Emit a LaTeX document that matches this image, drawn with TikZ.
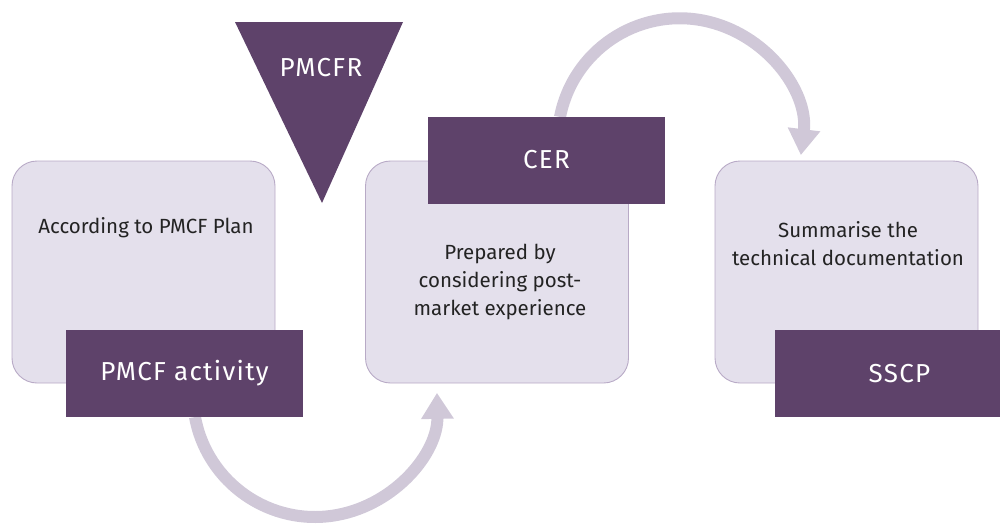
\documentclass[tikz,border=0pt]{standalone}
\usepackage{fontspec}
\setmainfont{Fira Sans}
\newfontfamily\tagfont[LetterSpace=5]{Fira Sans}
\usetikzlibrary{arrows.meta}
\definecolor{dpurple}{RGB}{94,66,106}
\definecolor{boxfill}{RGB}{228,224,236}
\definecolor{boxline}{RGB}{184,170,198}
\definecolor{arrowc}{RGB}{208,200,216}
\definecolor{txt}{RGB}{35,35,35}
\tikzset{
  card/.style={draw=boxline, line width=0.9pt, fill=boxfill, rounded corners=25pt, minimum width=263pt, minimum height=222pt, inner sep=0pt},
  tag/.style={fill=dpurple, text=white, minimum width=237pt, minimum height=87pt, inner sep=0pt, font=\tagfont\fontsize{26}{30}\selectfont},
  body/.style={text=txt, align=center, font=\fontsize{20.5}{28}\selectfont},
  flow/.style={draw=arrowc, line width=12pt, -{Triangle[width=31pt,length=26pt,fill=arrowc]}}
}
\begin{document}
\begin{tikzpicture}[x=1pt,y=-1pt]
\useasboundingbox (0,0) rectangle (1000,525);
\clip (0,0) rectangle (1000,525);
% cards
\node[card] (c1) at (143.5,272) {};
\node[card] (c2) at (497,272) {};
\node[card] (c3) at (846.5,272) {};
% arrows
\coordinate (a1) at (195,417);
\coordinate (a2) at (560,117);
\draw[flow] (a1) arc[start angle=169.6, end angle=-1, radius=122];
\draw[flow] (a2) arc[start angle=191, end angle=367, radius=122];
% tags
\node[tag] (act) at (184.5,373.5) {PMCF activity};
\node[tag] (cer) at (546.5,160) {CER};
\node[tag] (sscp) at (893.5,373.5) {\hspace*{12pt}SSCP};
% triangle
\fill[dpurple] (235,22) -- (403,22) -- (322,203) -- cycle;
\node[text=white, font=\tagfont\fontsize{26}{30}\selectfont] (pmcfr) at (321,68) {PMCFR};
% texts
\node[body] (t1) at (146,228) {According to PMCF Plan};
\node[body] (t2) at (500,282) {Prepared by\\considering post-\\market experience};
\node[body] (t3) at (848,244) {Summarise the\\technical documentation};
\end{tikzpicture}
\end{document}
